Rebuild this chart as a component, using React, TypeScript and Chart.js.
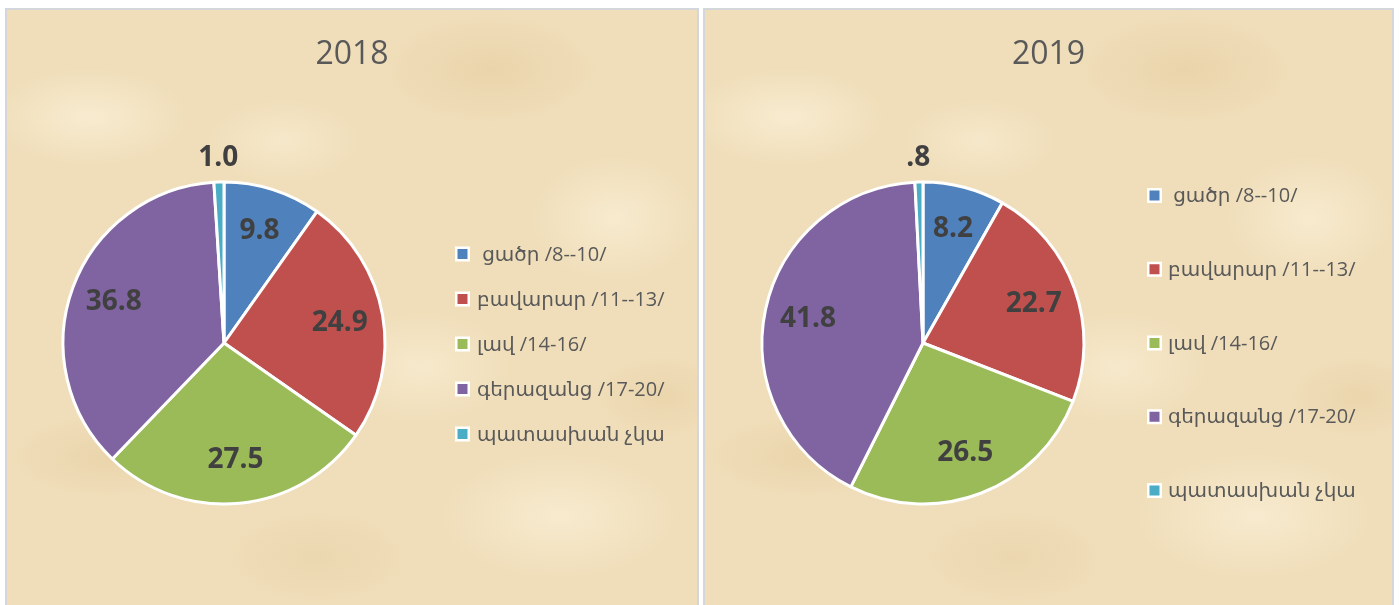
import React, { useEffect, useRef } from 'react';
import { Chart, registerables } from 'chart.js';

Chart.register(...registerables);

// ---- data ----
const categories = [' ցածր /8--10/', 'բավարար /11--13/', 'լավ /14-16/', 'գերազանց /17-20/', 'պատասխան չկա'];
const values2018 = [9.8, 24.9, 27.5, 36.8, 1.0];
const values2019 = [8.2, 22.7, 26.5, 41.8, 0.8];
const sliceColors = ['#4F81BD', '#C0504D', '#9BBB59', '#8064A2', '#4BACC6'];

const fmt = (v: number) => v.toFixed(1).replace(/^0\./, '.');

const sliceLabelPlugin = {
  id: 'sliceLabels',
  afterDatasetsDraw(chart: any) {
    const meta = chart.getDatasetMeta(0);
    const data = chart.data.datasets[0].data as number[];
    const ctx = chart.ctx as CanvasRenderingContext2D;
    ctx.save();
    ctx.font = 'bold 28px "Open Sans", "DejaVu Sans", sans-serif';
    ctx.fillStyle = '#404040';
    ctx.textAlign = 'center';
    ctx.textBaseline = 'middle';
    meta.data.forEach((arc: any, i: number) => {
      const p = arc.getProps(['x', 'y', 'startAngle', 'endAngle', 'outerRadius'], true);
      const mid = (p.startAngle + p.endAngle) / 2;
      const v = data[i];
      const dist = v < 2 ? p.outerRadius + 24 : p.outerRadius * 0.73;
      ctx.fillText(fmt(v), p.x + Math.cos(mid) * dist, p.y + Math.sin(mid) * dist);
    });
    ctx.restore();
  },
};

const panelTitlePlugin = {
  id: 'panelTitle',
  afterDraw(chart: any, _args: any, opts: any) {
    const ctx = chart.ctx as CanvasRenderingContext2D;
    ctx.save();
    ctx.font = '32px "Open Sans", "DejaVu Sans", sans-serif';
    ctx.fillStyle = '#595959';
    ctx.textAlign = 'center';
    ctx.textBaseline = 'middle';
    ctx.fillText(opts.text, chart.width / 2, opts.y);
    ctx.restore();
  },
};

const sideLegendPlugin = {
  id: 'sideLegend',
  afterDraw(chart: any, _args: any, opts: any) {
    const ctx = chart.ctx as CanvasRenderingContext2D;
    const labels = chart.data.labels as string[];
    const colors = chart.data.datasets[0].backgroundColor as string[];
    const n = labels.length;
    ctx.save();
    ctx.font = '20px "Open Sans", "DejaVu Sans", sans-serif';
    ctx.textBaseline = 'middle';
    ctx.textAlign = 'left';
    labels.forEach((lab, i) => {
      const cy = opts.centerY + (i - (n - 1) / 2) * opts.spacing;
      ctx.fillStyle = '#FFFFFF';
      ctx.fillRect(opts.boxX, cy - 7.5, 15, 15);
      ctx.fillStyle = colors[i];
      ctx.fillRect(opts.boxX + 2.5, cy - 5, 10, 10);
      ctx.fillStyle = '#595959';
      ctx.fillText(lab, opts.textX, cy + 1);
    });
    ctx.restore();
  },
};

type PanelProps = {
  title: string;
  values: number[];
  width: number;
  height: number;
  padRight: number;
  legend: { boxX: number; textX: number; centerY: number; spacing: number };
};

function PiePanel({ title, values, width, height, padRight, legend }: PanelProps) {
  const ref = useRef<HTMLCanvasElement | null>(null);
  useEffect(() => {
    if (!ref.current) return;
    const chart = new Chart(ref.current, {
      type: 'pie',
      data: {
        labels: categories,
        datasets: [
          {
            data: values,
            backgroundColor: sliceColors,
            borderColor: '#FFFFFF',
            borderWidth: 3,
            radius: 161,
          } as any,
        ],
      },
      options: {
        responsive: false,
        animation: false,
        layout: { padding: { left: 40, right: padRight, top: 71, bottom: 0 } },
        plugins: {
          legend: { display: false },
          tooltip: { enabled: false },
          title: { display: false },
          panelTitle: { text: title, y: 45 },
          sideLegend: legend,
        } as any,
      },
      plugins: [sliceLabelPlugin, panelTitlePlugin, sideLegendPlugin],
    });
    return () => chart.destroy();
  }, []);
  return <canvas ref={ref} width={width} height={height} style={{ width, height, display: 'block' }} />;
}

const parchment = [
  'radial-gradient(ellipse 140px 70px at 12% 18%, rgba(250,240,215,0.75), rgba(250,240,215,0) 70%)',
  'radial-gradient(ellipse 160px 80px at 70% 10%, rgba(226,200,152,0.45), rgba(226,200,152,0) 70%)',
  'radial-gradient(ellipse 120px 90px at 88% 35%, rgba(250,240,215,0.7), rgba(250,240,215,0) 70%)',
  'radial-gradient(ellipse 180px 70px at 30% 45%, rgba(228,204,158,0.4), rgba(228,204,158,0) 70%)',
  'radial-gradient(ellipse 130px 80px at 60% 60%, rgba(250,240,215,0.6), rgba(250,240,215,0) 70%)',
  'radial-gradient(ellipse 150px 60px at 15% 75%, rgba(226,200,152,0.45), rgba(226,200,152,0) 70%)',
  'radial-gradient(ellipse 170px 90px at 80% 85%, rgba(250,240,215,0.7), rgba(250,240,215,0) 70%)',
  'radial-gradient(ellipse 140px 70px at 45% 92%, rgba(228,204,158,0.4), rgba(228,204,158,0) 70%)',
  'radial-gradient(ellipse 100px 60px at 95% 65%, rgba(226,200,152,0.4), rgba(226,200,152,0) 70%)',
  'radial-gradient(ellipse 110px 60px at 40% 22%, rgba(250,240,215,0.55), rgba(250,240,215,0) 70%)',
  '#F0DEBA',
].join(', ');

const panelBase: React.CSSProperties = {
  position: 'absolute',
  top: 8,
  height: 597,
  boxSizing: 'border-box',
  border: '2px solid #D3D6DB',
  borderBottom: 'none',
  background: parchment,
  overflow: 'hidden',
};

export default function App() {
  return (
    <div>
      <div style={{ ...panelBase, left: 5, width: 694 }}>
        <PiePanel
          title="2018"
          values={values2018}
          width={690}
          height={595}
          padRight={296}
          legend={{ boxX: 448, textX: 470, centerY: 334, spacing: 45 }}
        />
      </div>
      <div style={{ ...panelBase, left: 703, width: 691 }}>
        <PiePanel
          title="2019"
          values={values2019}
          width={687}
          height={595}
          padRight={291}
          legend={{ boxX: 442, textX: 463, centerY: 333, spacing: 73.75 }}
        />
      </div>
    </div>
  );
}
